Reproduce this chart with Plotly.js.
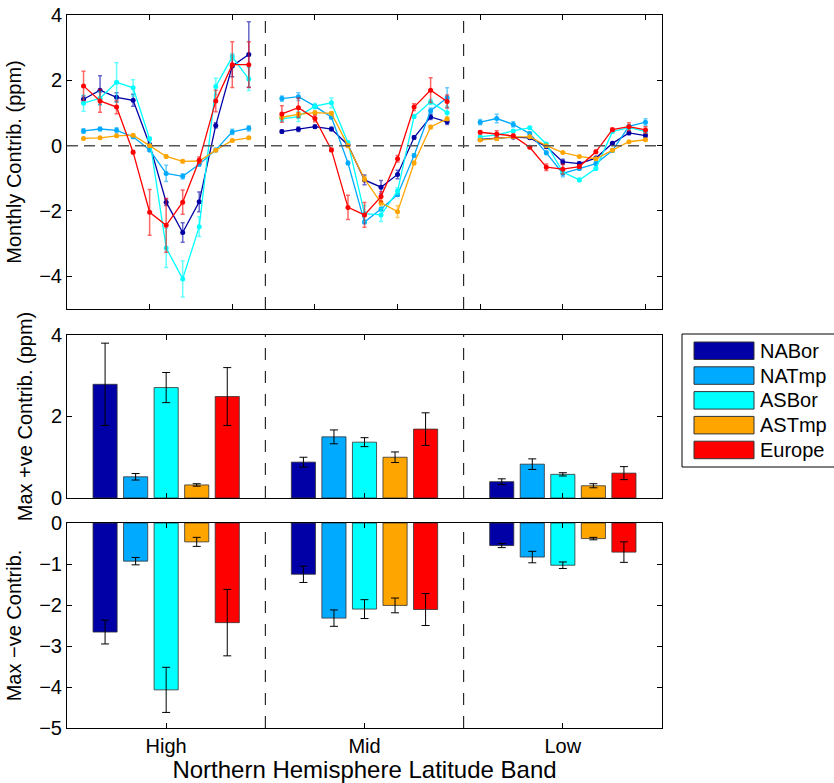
<!DOCTYPE html>
<html>
<head>
<meta charset="utf-8">
<script src="https://cdn.plot.ly/plotly-3.0.1.min.js"></script>
<style>
  html, body { margin: 0; padding: 0; background: #fff; }
  #chart { width: 834px; height: 783px; }
</style>
</head>
<body>
<div id="chart"></div>
<script>
// ---------------- DATA ----------------
const seriesNames = ["NABor", "NATmp", "ASBor", "ASTmp", "Europe"];
const seriesColors = ["#0000A6", "#00AAFF", "#00FFFF", "#FFA500", "#FF0000"];
const bandLabels = ["High", "Mid", "Low"];
const monthSlots = [1, 2, 3, 4, 5, 6, 7, 8, 9, 10, 11];
const bandWidth = 12;

// Monthly contributions (ppm), High band
const high_NABor  = [1.42, 1.70, 1.48, 1.39, 0.03, -1.73, -2.66, -1.72, 0.62, 2.44, 2.79];
const high_NATmp  = [0.45, 0.51, 0.47, 0.27, -0.13, -0.85, -0.94, -0.57, -0.13, 0.42, 0.53];
const high_ASBor  = [1.30, 1.45, 1.94, 1.77, 0.21, -3.13, -4.08, -2.48, 1.81, 2.72, 2.04];
const high_ASTmp  = [0.22, 0.24, 0.30, 0.32, 0.00, -0.33, -0.48, -0.47, -0.14, 0.16, 0.24];
const high_Europe = [1.83, 1.37, 1.18, -0.20, -2.04, -2.44, -1.73, -0.45, 1.37, 2.48, 2.48];
const high_NABor_err  = [0.10, 0.44, 0.14, 0.18, 0.05, 0.10, 0.30, 0.30, 0.08, 0.33, 1.00];
const high_NATmp_err  = [0.07, 0.05, 0.08, 0.05, 0.05, 0.25, 0.08, 0.05, 0.05, 0.08, 0.08];
const high_ASBor_err  = [0.25, 0.20, 0.60, 0.25, 0.05, 0.60, 0.55, 0.30, 0.25, 0.10, 0.35];
const high_ASTmp_err  = [0.03, 0.03, 0.04, 0.04, 0.03, 0.05, 0.05, 0.05, 0.03, 0.03, 0.03];
const high_Europe_err = [0.45, 0.35, 0.20, 0.05, 0.70, 0.82, 0.37, 0.10, 0.33, 0.70, 0.70];

// Mid band
const mid_NABor  = [0.43, 0.50, 0.58, 0.51, 0.02, -1.05, -1.27, -0.88, 0.25, 0.88, 0.73];
const mid_NATmp  = [1.44, 1.50, 1.21, 0.87, -0.53, -2.34, -1.94, -1.50, -0.30, 1.07, 1.47];
const mid_ASBor  = [0.82, 0.89, 1.21, 1.31, 0.09, -2.08, -2.12, -1.39, 0.89, 1.34, 1.01];
const mid_ASTmp  = [0.87, 0.96, 1.01, 0.99, 0.00, -1.02, -1.75, -2.02, -0.53, 0.57, 0.82];
const mid_Europe = [0.97, 1.16, 0.83, -0.13, -1.89, -2.12, -1.56, -0.40, 1.18, 1.70, 1.35];
const mid_NABor_err  = [0.05, 0.07, 0.05, 0.05, 0.05, 0.15, 0.20, 0.13, 0.05, 0.08, 0.08];
const mid_NATmp_err  = [0.08, 0.12, 0.05, 0.05, 0.05, 0.05, 0.05, 0.05, 0.05, 0.08, 0.30];
const mid_ASBor_err  = [0.08, 0.15, 0.08, 0.15, 0.05, 0.25, 0.20, 0.10, 0.05, 0.08, 0.20];
const mid_ASTmp_err  = [0.05, 0.05, 0.05, 0.05, 0.05, 0.08, 0.08, 0.18, 0.05, 0.05, 0.05];
const mid_Europe_err = [0.25, 0.30, 0.10, 0.05, 0.37, 0.38, 0.15, 0.10, 0.10, 0.38, 0.20];

// Low band
const low_NABor  = [0.19, 0.23, 0.26, 0.24, -0.03, -0.50, -0.55, -0.38, 0.07, 0.39, 0.31];
const low_NATmp  = [0.72, 0.83, 0.65, 0.37, -0.22, -0.85, -0.70, -0.55, -0.15, 0.59, 0.72];
const low_ASBor  = [0.27, 0.33, 0.45, 0.55, 0.05, -0.81, -1.05, -0.70, 0.43, 0.55, 0.44];
const low_ASTmp  = [0.17, 0.21, 0.27, 0.27, 0.00, -0.21, -0.33, -0.40, -0.14, 0.12, 0.18];
const low_Europe = [0.41, 0.36, 0.30, -0.05, -0.66, -0.72, -0.64, -0.19, 0.49, 0.58, 0.48];
const low_NABor_err  = [0.03, 0.03, 0.03, 0.03, 0.03, 0.08, 0.05, 0.05, 0.03, 0.05, 0.05];
const low_NATmp_err  = [0.08, 0.13, 0.08, 0.05, 0.05, 0.10, 0.05, 0.05, 0.05, 0.05, 0.10];
const low_ASBor_err  = [0.03, 0.03, 0.03, 0.03, 0.03, 0.05, 0.05, 0.05, 0.03, 0.03, 0.03];
const low_ASTmp_err  = [0.02, 0.02, 0.02, 0.02, 0.02, 0.02, 0.02, 0.02, 0.02, 0.02, 0.02];
const low_Europe_err = [0.05, 0.10, 0.05, 0.03, 0.10, 0.15, 0.05, 0.05, 0.05, 0.12, 0.10];

// Max positive contributions per band (High, Mid, Low)
const maxPos_NABor  = [2.79, 0.88, 0.40];
const maxPos_NATmp  = [0.52, 1.50, 0.83];
const maxPos_ASBor  = [2.71, 1.37, 0.58];
const maxPos_ASTmp  = [0.32, 1.00, 0.30];
const maxPos_Europe = [2.49, 1.69, 0.61];
const maxPos_NABor_err  = [1.01, 0.12, 0.07];
const maxPos_NATmp_err  = [0.08, 0.17, 0.13];
const maxPos_ASBor_err  = [0.37, 0.11, 0.04];
const maxPos_ASTmp_err  = [0.03, 0.13, 0.05];
const maxPos_Europe_err = [0.71, 0.40, 0.16];

// Max negative contributions per band (High, Mid, Low)
const maxNeg_NABor  = [-2.66, -1.25, -0.55];
const maxNeg_NATmp  = [-0.93, -2.32, -0.83];
const maxNeg_ASBor  = [-4.07, -2.10, -1.03];
const maxNeg_ASTmp  = [-0.46, -2.01, -0.38];
const maxNeg_Europe = [-2.43, -2.11, -0.71];
const maxNeg_NABor_err  = [0.29, 0.20, 0.05];
const maxNeg_NATmp_err  = [0.09, 0.20, 0.14];
const maxNeg_ASBor_err  = [0.55, 0.23, 0.08];
const maxNeg_ASTmp_err  = [0.11, 0.18, 0.03];
const maxNeg_Europe_err = [0.81, 0.39, 0.25];

// ---------------- BUILD ----------------
const monthly = [
  [high_NABor, mid_NABor, low_NABor],
  [high_NATmp, mid_NATmp, low_NATmp],
  [high_ASBor, mid_ASBor, low_ASBor],
  [high_ASTmp, mid_ASTmp, low_ASTmp],
  [high_Europe, mid_Europe, low_Europe]
];
const monthlyErr = [
  [high_NABor_err, mid_NABor_err, low_NABor_err],
  [high_NATmp_err, mid_NATmp_err, low_NATmp_err],
  [high_ASBor_err, mid_ASBor_err, low_ASBor_err],
  [high_ASTmp_err, mid_ASTmp_err, low_ASTmp_err],
  [high_Europe_err, mid_Europe_err, low_Europe_err]
];
const posVals = [maxPos_NABor, maxPos_NATmp, maxPos_ASBor, maxPos_ASTmp, maxPos_Europe];
const posErrs = [maxPos_NABor_err, maxPos_NATmp_err, maxPos_ASBor_err, maxPos_ASTmp_err, maxPos_Europe_err];
const negVals = [maxNeg_NABor, maxNeg_NATmp, maxNeg_ASBor, maxNeg_ASTmp, maxNeg_Europe];
const negErrs = [maxNeg_NABor_err, maxNeg_NATmp_err, maxNeg_ASBor_err, maxNeg_ASTmp_err, maxNeg_Europe_err];

function hexToRgba(hex, a) {
  const r = parseInt(hex.slice(1, 3), 16), g = parseInt(hex.slice(3, 5), 16), b = parseInt(hex.slice(5, 7), 16);
  return `rgba(${r},${g},${b},${a})`;
}

const traces = [];
// Monthly lines (top panel)
seriesNames.forEach((name, s) => {
  bandLabels.forEach((band, b) => {
    traces.push({
      type: "scatter", mode: "lines+markers",
      x: monthSlots.map(m => b * bandWidth + m),
      y: monthly[s][b],
      error_y: { type: "data", array: monthlyErr[s][b], visible: true,
                 color: hexToRgba(seriesColors[s], 0.6), thickness: 1.5, width: 2 },
      line: { color: seriesColors[s], width: 1.3 },
      marker: { color: seriesColors[s], size: 5, symbol: "circle" },
      xaxis: "x", yaxis: "y", showlegend: false, name: name
    });
  });
});
const bandCenters = bandLabels.map((_, b) => b + 0.5);
// Max +ve bars
seriesNames.forEach((name, s) => {
  traces.push({
    type: "bar", x: bandCenters, y: posVals[s], name: name,
    marker: { color: seriesColors[s], line: { color: "#333", width: 0.8 } },
    error_y: { type: "data", array: posErrs[s], visible: true, color: "#000", thickness: 1, width: 4 },
    xaxis: "x2", yaxis: "y2", showlegend: false
  });
});
// Max -ve bars
seriesNames.forEach((name, s) => {
  traces.push({
    type: "bar", x: bandCenters, y: negVals[s], name: name,
    marker: { color: seriesColors[s], line: { color: "#333", width: 0.8 } },
    error_y: { type: "data", array: negErrs[s], visible: true, color: "#000", thickness: 1, width: 4 },
    xaxis: "x3", yaxis: "y3", showlegend: false
  });
});

const font = { family: "Liberation Sans, Arial, sans-serif", size: 20, color: "#000" };
const axBase = {
  showline: true, linecolor: "#000", linewidth: 1, mirror: "ticks",
  ticks: "inside", ticklen: 5, tickcolor: "#000", tickwidth: 1,
  showgrid: false, zeroline: false, tickfont: font
};

const shapes = [];
// dashed band dividers in each panel
[[ "x", "y domain", bandWidth ], ["x2", "y2 domain", 1], ["x3", "y3 domain", 1]].forEach(([xr, yr, step]) => {
  [1, 2].forEach(k => {
    shapes.push({ type: "line", xref: xr, yref: yr, x0: k * step, x1: k * step, y0: 0, y1: 1,
                  line: { color: "#000", width: 1, dash: "12px,11px" } });
  });
});
// zero dashed line in top panel
shapes.push({ type: "line", xref: "x domain", yref: "y", x0: 0, x1: 1, y0: 0, y1: 0,
              line: { color: "#555", width: 1.5, dash: "11px,6px" } });

// custom legend (box, swatches, labels)
const annotations = [];
const pxX = px => (px - 67) / 595;
const pxY = py => (728 - py) / 713;
shapes.push({ type: "rect", xref: "paper", yref: "paper", x0: pxX(682), x1: pxX(845), y0: pxY(467), y1: pxY(334),
              line: { color: "#000", width: 1 }, fillcolor: "#fff", layer: "below" });
seriesNames.forEach((name, s) => {
  const top = 342 + s * 24.8;
  shapes.push({ type: "rect", xref: "paper", yref: "paper", x0: pxX(694), x1: pxX(754),
                y0: pxY(top + 17.5), y1: pxY(top), fillcolor: seriesColors[s],
                line: { color: "#333", width: 1 } });
  annotations.push({ xref: "paper", yref: "paper", x: pxX(758), y: pxY(top + 8.75),
                     xanchor: "left", yanchor: "middle", text: name, showarrow: false,
                     font: { family: font.family, size: 20, color: "#000" } });
});

const layout = {
  width: 834, height: 783,
  margin: { l: 67, r: 172, t: 15, b: 55 },
  paper_bgcolor: "#fff", plot_bgcolor: "#fff",
  font: font,
  showlegend: false,
  barmode: "group", bargap: 0.23, bargroupgap: 0.21,
  xaxis: Object.assign({}, axBase, { domain: [0, 1], range: [0, 36], anchor: "y",
           tickvals: [5, 10, 15, 20, 25, 30, 35], showticklabels: false }),
  yaxis: Object.assign({}, axBase, { domain: [0.5877, 1], range: [-5, 4], anchor: "x",
           tickvals: [-4, -2, 0, 2, 4], ticktext: ["\u22124", "\u22122", "0", "2", "4"],
           title: { text: "Monthly Contrib. (ppm)", font: font, standoff: 12 } }),
  xaxis2: Object.assign({}, axBase, { domain: [0, 1], range: [0, 3], anchor: "y2",
           tickvals: bandCenters, showticklabels: false }),
  yaxis2: Object.assign({}, axBase, { domain: [0.3226, 0.5512], range: [0, 4], anchor: "x2",
           tickvals: [0, 2, 4],
           title: { text: "Max +ve Contrib. (ppm)", font: font, standoff: 12 } }),
  xaxis3: Object.assign({}, axBase, { domain: [0, 1], range: [0, 3], anchor: "y3",
           tickvals: bandCenters, ticktext: bandLabels,
           title: { text: "Northern Hemisphere Latitude Band", font: { family: font.family, size: 24, color: "#000" }, standoff: 3 } }),
  yaxis3: Object.assign({}, axBase, { domain: [0, 0.2875], range: [-5, 0], anchor: "x3",
           tickvals: [-5, -4, -3, -2, -1, 0],
           ticktext: ["\u22125", "\u22124", "\u22123", "\u22122", "\u22121", "0"],
           title: { text: "Max \u2212ve Contrib.", font: font, standoff: 12 } }),
  shapes: shapes,
  annotations: annotations
};

Plotly.newPlot("chart", traces, layout, { displayModeBar: false, staticPlot: true });
</script>
</body>
</html>
